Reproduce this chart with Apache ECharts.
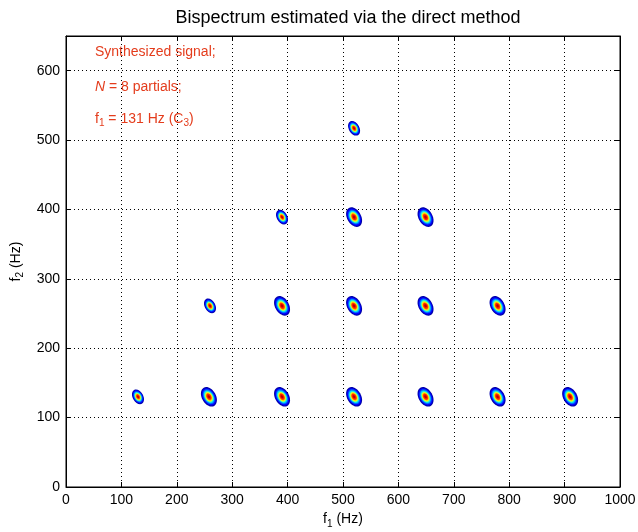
<!DOCTYPE html>
<html><head><meta charset="utf-8">
<script src="https://cdn.jsdelivr.net/npm/echarts@6/dist/echarts.min.js"></script>
<style>html,body{margin:0;padding:0;background:#fff}#c{width:638px;height:532px}</style>
</head><body><div id="c"></div>
<script>
// Blob centres (Hz)
const f1Values = [130, 258, 390, 520, 649, 779, 910, 260, 390, 520, 649, 779, 390, 520, 649, 520];
const f2Values = [130, 130, 130, 130, 130, 130, 130, 261, 261, 261, 261, 261, 389, 389, 389, 517];
const blobSize = [0.75, 1, 1, 1, 1, 1, 1, 0.75, 1, 1, 1, 1, 0.75, 1, 1, 0.75];
const xTicks = [0, 100, 200, 300, 400, 500, 600, 700, 800, 900, 1000];
const yTicks = [0, 100, 200, 300, 400, 500, 600];

const levels = [
  [1.00, '#0000a8'], [0.88, '#0000ff'], [0.76, '#0060ff'], [0.65, '#00d8ff'],
  [0.55, '#70ff90'], [0.46, '#ffff00'], [0.38, '#ff9000'], [0.30, '#ff2000'], [0.16, '#b80000']
];
const font = 'Liberation Sans, Arial, Helvetica, sans-serif';
const red = '#e43c1c';

const chart = echarts.init(document.getElementById('c'), null, {renderer: 'canvas'});
const data = f1Values.map((v, i) => [v, f2Values[i], blobSize[i]]);

const axisCommon = {
  type: 'value', min: 0, interval: 100,
  axisLine: {show: true, onZero: false, lineStyle: {color: '#000', width: 1}},
  axisTick: {show: true, inside: true, length: 5, lineStyle: {color: '#000'}},
  splitLine: {show: false}
};

chart.setOption({
  animation: false,
  backgroundColor: '#fff',
  title: {text: 'Bispectrum estimated via the direct method', left: 343, textAlign: 'center', top: 4,
    textStyle: {fontFamily: font, fontSize: 18, fontWeight: 'normal', color: '#000'}},
  grid: {left: 66, right: 18, top: 36, bottom: 45, outerBoundsMode: 'none', containLabel: false,
    show: true, borderColor: '#000', borderWidth: 1, backgroundColor: 'transparent'},
  xAxis: [
    Object.assign({}, axisCommon, {max: 1000, position: 'bottom',
      splitLine: {show: true, lineStyle: {color: '#000', type: [1, 3], width: 1}},
      axisLabel: {show: true, color: '#000', fontFamily: font, fontSize: 14, margin: 6,
        formatter: v => xTicks.includes(v) ? String(v) : ''},
      name: '{n|f}{s|1}{n| (Hz)}', nameLocation: 'middle', nameGap: 23,
      nameTextStyle: {rich: {n: {fontFamily: font, fontSize: 14, color: '#000'},
        s: {fontFamily: font, fontSize: 10, color: '#000', padding: [9, 0, 0, 0]}}}}),
    Object.assign({}, axisCommon, {max: 1000, position: 'top', axisLabel: {show: false}})
  ],
  yAxis: [
    Object.assign({}, axisCommon, {max: 650, position: 'left',
      splitLine: {show: true, lineStyle: {color: '#000', type: [1, 3], width: 1}},
      axisLabel: {show: true, color: '#000', fontFamily: font, fontSize: 14, margin: 6,
        formatter: v => yTicks.includes(v) ? String(v) : ''},
      name: '{n|f}{s|2}{n| (Hz)}', nameLocation: 'middle', nameGap: 36, nameRotate: 90,
      nameTextStyle: {rich: {n: {fontFamily: font, fontSize: 14, color: '#000'},
        s: {fontFamily: font, fontSize: 10, color: '#000', padding: [9, 0, 0, 0]}}}}),
    Object.assign({}, axisCommon, {max: 650, position: 'right', axisLabel: {show: false}})
  ],
  graphic: [
    {type: 'text', left: 95, top: 45, style: {text: 'Synthesized signal;', font: '14px ' + font, fill: red}},
    {type: 'text', left: 95, top: 80, style: {text: '{i|N}{n| = 8 partials;}',
      rich: {i: {fontFamily: font, fontSize: 14, fontStyle: 'italic', fill: red},
             n: {fontFamily: font, fontSize: 14, fill: red}}}},
    {type: 'text', left: 95, top: 112, style: {text: '{n|f}{s|1}{n| = 131 Hz (C}{s|3}{n|)}',
      rich: {n: {fontFamily: font, fontSize: 14, fill: red},
             s: {fontFamily: font, fontSize: 10, fill: red, padding: [9, 0, 0, 0]}}}}
  ],
  series: [{
    type: 'custom',
    coordinateSystem: 'cartesian2d',
    xAxisIndex: 0, yAxisIndex: 0,
    data: data,
    clip: true,
    renderItem: function (params, api) {
      const c = api.coord([api.value(0), api.value(1)]);
      const s = api.value(2);
      const unit = api.size([1, 1]);
      const rx = 12.6 * unit[0] * s;
      const ry = 15.2 * unit[1] * s;
      const children = levels.map(function (lv) {
        return {
          type: 'ellipse',
          x: c[0], y: c[1],
          rotation: 0.52,
          shape: {cx: 0, cy: 0, rx: rx * lv[0], ry: ry * lv[0]},
          style: {fill: lv[1]}
        };
      });
      return {type: 'group', children: children};
    }
  }]
});
</script></body></html>
